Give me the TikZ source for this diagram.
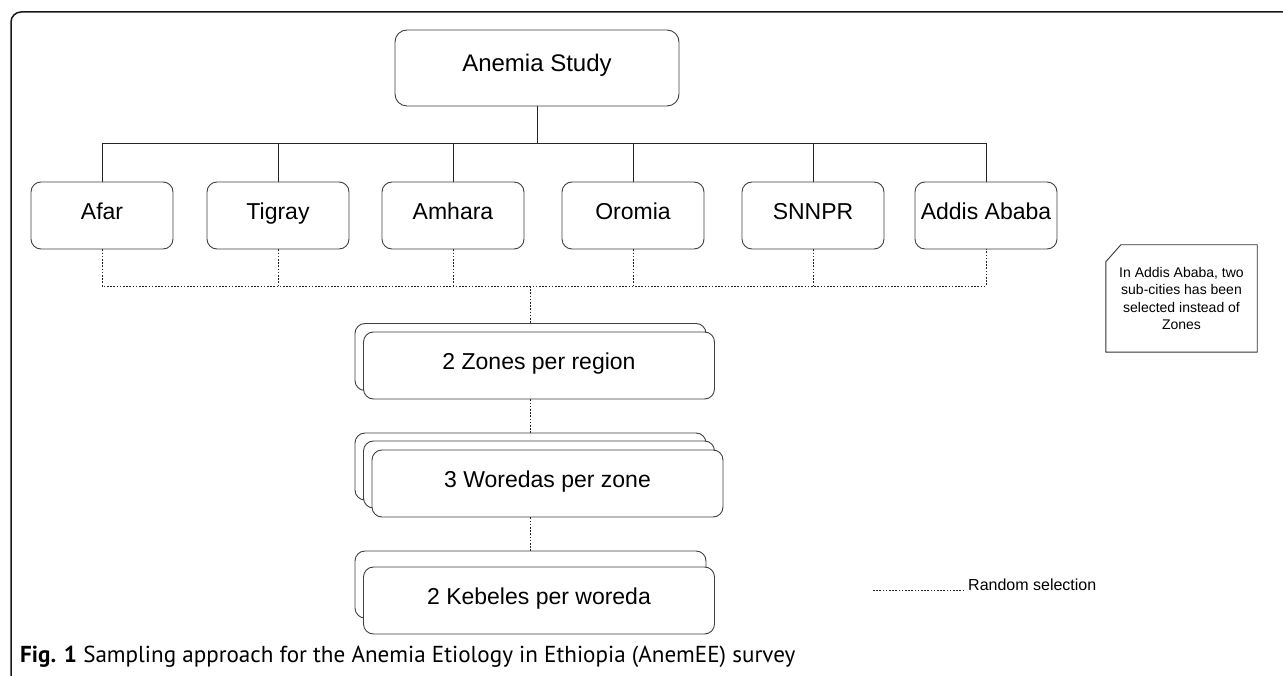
\documentclass[tikz,border=0pt]{standalone}
\usepackage{fontspec}
\usepackage{graphicx}
\setmainfont{Liberation Sans}
\newfontfamily\capfont{PT Sans}
\usetikzlibrary{calc}
\begin{document}
\begin{tikzpicture}[x=1pt,y=-1pt,
  region/.style={draw=black!75, line width=0.9pt, rounded corners=10pt, fill=white, minimum width=142pt, minimum height=67pt, inner sep=0pt, text height=0.72em, text depth=0em, font=\fontsize{23}{27}\selectfont},
  stackbox/.style={region, minimum width=351pt},
  tree/.style={draw=black!85, line width=0.8pt},
  rand/.style={draw=black!85, line width=0.9pt, dash pattern=on 1.6pt off 1.6pt},
]
\useasboundingbox (0,0) rectangle (1283,676);
\fill[white] (0,0) rectangle (1283,676);
% frame
\draw[line width=1.5pt, black!90, rounded corners=10pt] (11,690) -- (11,12) -- (1295,12);

\node[region, minimum width=284pt, minimum height=76pt, font=\fontsize{24}{28}\selectfont, rounded corners=12pt] (study) at (537,68) {Anemia Study};
\node[region] (afar) at (102,215.5) {Afar};
\node[region] (tigray) at (278,215.5) {Tigray};
\node[region] (amhara) at (453,215.5) {Amhara};
\node[region] (oromia) at (633,215.5) {Oromia};
\node[region] (snnpr) at (813,215.5) {SNNPR};
\node[region] (addis) at (986,215.5) {Addis Ababa};

\coordinate (hub) at (537,143);
\draw[tree] (study.south) -- (hub);
\draw[tree] (afar.north) -- (afar.north |- hub) -- (addis.north |- hub) -- (addis.north);
\foreach \n in {tigray,amhara,oromia,snnpr} \draw[tree] (\n.north) -- (\n.north |- hub);

% stacks
\node[stackbox] (zonesA) at (530.5,357) {};
\node[stackbox] (zones) at (539,365.5) {2 Zones per region};
\node[stackbox] (woredasA) at (530.5,466.5) {};
\node[stackbox] (woredasB) at (539,474.5) {};
\node[stackbox] (woredas) at (547.5,483.5) {3 Woredas per zone};
\node[stackbox] (kebelesA) at (530.5,584.5) {};
\node[stackbox] (kebeles) at (539,600.5) {2 Kebeles per woreda};

% random selection connectors
\coordinate (dhub) at (530.5,286);
\draw[rand] (afar.south) -- (afar.south |- dhub) -- (addis.south |- dhub) -- (addis.south);
\foreach \n in {tigray,amhara,oromia,snnpr} \draw[rand] (\n.south) -- (\n.south |- dhub);
\draw[rand, line width=1.7pt] (dhub) -- (zonesA.north);
\draw[rand] (zonesA.center |- zones.south) -- (woredasA.north);
\draw[rand] (woredasA.center |- woredas.south) -- (kebelesA.north);

% note
\node[minimum width=151pt, minimum height=107pt, inner sep=0pt] (note) at (1181.5,298.5) {};
\draw[black!80, line width=0.9pt] ($(note.north west)+(0,17)$) -- ($(note.north west)+(15,0)$) -- (note.north east) -- (note.south east) -- (note.south west) -- cycle;
\node[font=\fontsize{14}{17.5}\selectfont, align=center, inner sep=0pt] (notetext) at (note.center) {In Addis Ababa, two\\sub-cities has been\\selected instead of\\Zones};

% legend
\coordinate (legA) at (873,590);
\coordinate (legB) at (965,590);
\draw[rand] (legA) -- (legB);
\node[font=\fontsize{16}{19}\selectfont, anchor=west, inner sep=0pt] (legtext) at (968,585) {Random selection};

% caption
\node[anchor=west, inner sep=0pt] (caption) at (20,657) {\resizebox{775pt}{!}{\capfont\fontsize{20}{24}\selectfont\textbf{Fig. 1} Sampling approach for the Anemia Etiology in Ethiopia (AnemEE) survey}};
\end{tikzpicture}
\end{document}
